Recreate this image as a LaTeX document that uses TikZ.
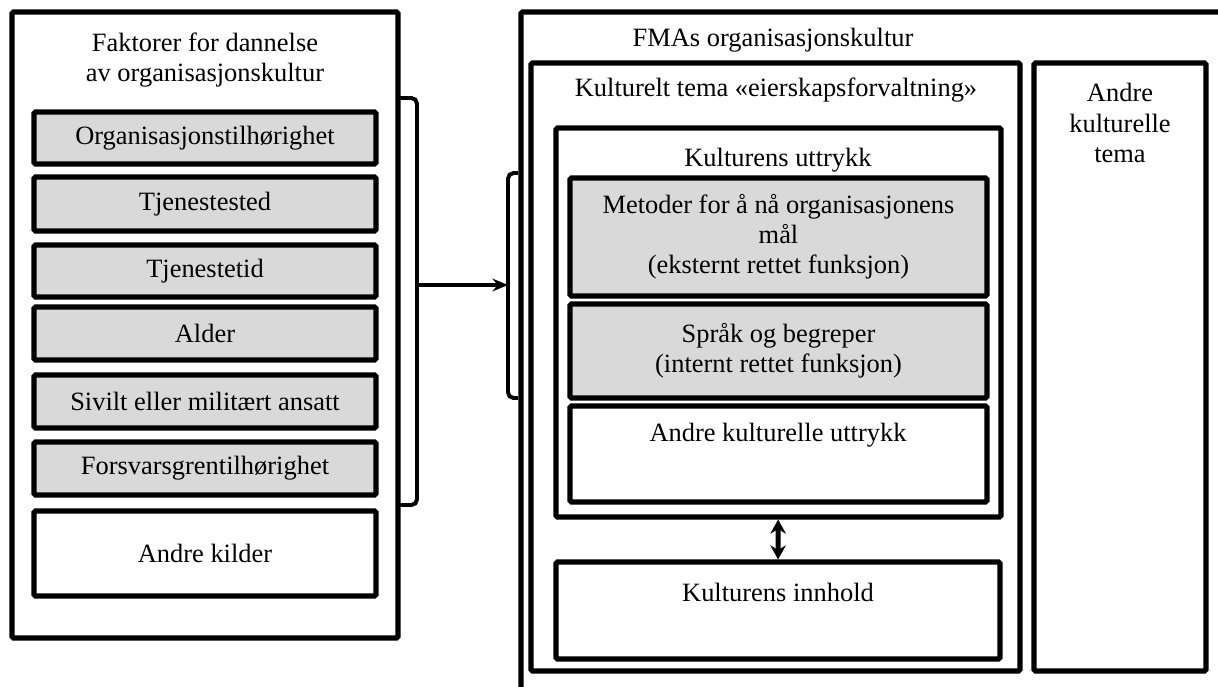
\documentclass[tikz,border=0pt]{standalone}
\usepackage{fontspec}
\setmainfont{Liberation Serif}
\usepackage{tikz}
\usetikzlibrary{positioning, arrows.meta, fit}
\definecolor{boxgray}{RGB}{217, 217, 217}

\begin{document}
\begin{tikzpicture}[
    x=0.025cm, y=-0.025cm,
    font=\fontsize{18.8}{21.5}\selectfont,
    frame/.style={rectangle, draw, line width=3.6pt, rounded corners=1pt, inner sep=0pt, fit={#1}},
    graybox/.style={frame={#1}, fill=boxgray},
    boxtext/.style={align=center, inner sep=0pt},
    heading/.style={align=center, inner sep=0pt},
    brace/.style={line width=2.8pt, rounded corners=4pt},
    arrow/.style={-{Stealth[length=11pt, width=9pt]}, line width=2.8pt},
    dblarrow/.style={{Stealth[length=10pt, width=11pt]}-{Stealth[length=10pt, width=11pt]}, line width=3.6pt}
]
    \useasboundingbox (0,0) rectangle (1218,686);
    \clip (0,0) rectangle (1218,686);

    \node[frame={(12,12) (398,638)}] (factors) {};
    \node[heading] (factorstitle) at (205,60) {Faktorer for dannelse\\av organisasjonskultur};
    \node[graybox={(34,112) (376,164)}, label={[boxtext]center:Organisasjonstilhørighet}] (org) {};
    \node[graybox={(34,177) (376,231)}, label={[boxtext]center:Tjenestested}] (sted) {};
    \node[graybox={(34,245) (376,297)}, label={[boxtext]center:Tjenestetid}] (tid) {};
    \node[graybox={(34,307) (376,360)}, label={[boxtext]center:Alder}] (alder) {};
    \node[graybox={(34,375) (376,428)}, label={[boxtext]center:Sivilt eller militært ansatt}] (sivilt) {};
    \node[graybox={(34,442) (376,495)}, label={[boxtext]center:Forsvarsgrentilhørighet}] (gren) {};
    \node[frame={(34,511) (376,596)}, label={[boxtext]center:Andre kilder}] (kilder) {};

    \coordinate (lbrace) at (417,285);
    \coordinate (rbrace) at (508,285);
    \draw[brace] (400,98) -- (417,98) -- (417,505) -- (400,505);
    \draw[brace] (518,173) -- (508,173) -- (508,398) -- (518,398);
    \draw[arrow] (lbrace) -- (rbrace);

    \node[frame={(521,12) (1240,700)}] (fma) {};
    \node[heading] (fmatitle) at (773,40) {FMAs organisasjonskultur};

    \node[frame={(531,63) (1020,671)}] (tema) {};
    \node[heading] (tematitle) at (776,90) {Kulturelt tema «eierskapsforvaltning»};
    \node[frame={(1034,63) (1206,671)}] (andretema) {};
    \node[heading] (andretematitle) at (1120,123) {Andre\\kulturelle\\tema};

    \node[frame={(556,128) (1001,517)}] (uttrykk) {};
    \node[heading] (uttrykktitle) at (778,160) {Kulturens uttrykk};
    \node[graybox={(570,178) (987,296)}, label={[boxtext]center:Metoder for å nå organisasjonens\\mål\\(eksternt rettet funksjon)}] (metoder) {};
    \node[graybox={(570,304) (987,398)}, label={[boxtext]center:Språk og begreper\\(internt rettet funksjon)}] (sprak) {};
    \node[frame={(570,406) (987,502)}] (andreuttrykk) {};
    \node[heading] (andreuttrykktitle) at (778,435) {Andre kulturelle uttrykk};

    \node[frame={(556,562) (1000,659)}] (innhold) {};
    \node[heading] (innholdtitle) at (778,592) {Kulturens innhold};

    \draw[dblarrow] (uttrykk) -- (innhold);
\end{tikzpicture}
\end{document}
